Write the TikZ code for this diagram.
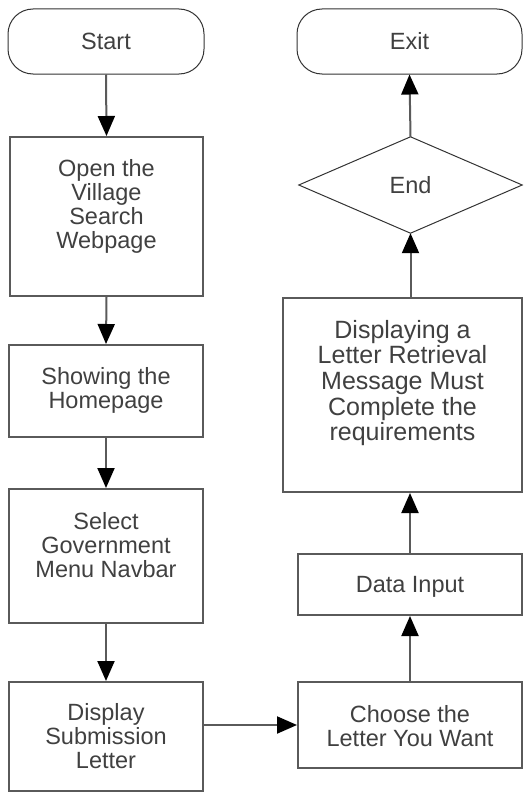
\documentclass[tikz,border=0pt]{standalone}
\usepackage{fontspec}
\setmainfont{Liberation Sans}
\usetikzlibrary{arrows.meta}
\definecolor{edge}{HTML}{5A5A5A}
\definecolor{txt}{HTML}{404040}
\begin{document}
\begin{tikzpicture}[x=1pt,y=-1pt,
  box/.style={draw=edge,line width=2pt,rectangle,inner sep=0pt},
  term/.style={draw=black!80,line width=1pt,rectangle,rounded corners=25pt,inner sep=0pt},
  ghost/.style={rectangle,inner sep=0pt},
  lbl/.style={inner sep=0pt,align=center,text=txt,font=\fontsize{23.5}{24}\selectfont},
  arr/.style={draw=edge,line width=2pt,-{Triangle[length=20pt,width=17pt,fill=black,color=black]}}]
\useasboundingbox (0,0) rectangle (523,792);
% left column
\node[term,minimum width=196pt,minimum height=65pt] (start) at (106,41.5) {};
\node[lbl] (startt) at (106,41.5) {Start};
\node[box,minimum width=193pt,minimum height=159pt] (open) at (106.5,216.5) {};
\node[lbl] (opent) at (106.5,206) {Open the\\Village\\Search\\Webpage};
\node[box,minimum width=194pt,minimum height=92pt] (show) at (106,391) {};
\node[lbl] (showt) at (106,390) {Showing the\\Homepage};
\node[box,minimum width=194pt,minimum height=134pt] (select) at (106,556) {};
\node[lbl] (selectt) at (106,545) {Select\\Government\\Menu Navbar};
\node[box,minimum width=194pt,minimum height=109pt] (display) at (106,736.5) {};
\node[lbl] (displayt) at (106,736) {Display\\Submission\\Letter};
% right column
\node[term,minimum width=225pt,minimum height=65pt] (exit) at (409.5,41.5) {};
\node[lbl] (exitt) at (409.5,41.5) {Exit};
\node[ghost,minimum width=223pt,minimum height=96pt] (end) at (410.5,185) {};
\draw[draw=black!80,line width=1pt] (end.north) -- (end.east) -- (end.south) -- (end.west) -- cycle;
\node[lbl] (endt) at (410.5,185) {End};
\node[box,minimum width=239pt,minimum height=194pt] (msg) at (402.5,395) {};
\node[lbl,font=\fontsize{25}{25.7}\selectfont] (msgt) at (402.5,383) {Displaying a\\Letter Retrieval\\Message Must\\Complete the\\requirements};
\node[box,minimum width=224pt,minimum height=61pt] (data) at (410,584.5) {};
\node[lbl] (datat) at (410,587) {Data Input};
\node[box,minimum width=224pt,minimum height=86pt] (choose) at (410,725) {};
\node[lbl] (chooset) at (410,726) {Choose the\\Letter You Want};
% connectors
\draw[arr] (start.south) -- (open.north);
\draw[arr] (open.south) -- (show.north);
\draw[arr] (show.south) -- (select.north);
\draw[arr] (select.south) -- (display.north);
\draw[arr] (display.east |- choose.west) -- (choose.west);
\draw[arr] (choose.north) -- (data.south);
\draw[arr] (data.north) -- (data.north |- msg.south);
\draw[arr] (end.south |- msg.north) -- (end.south);
\draw[arr] (end.north) -- (exit.south);
\end{tikzpicture}
\end{document}
